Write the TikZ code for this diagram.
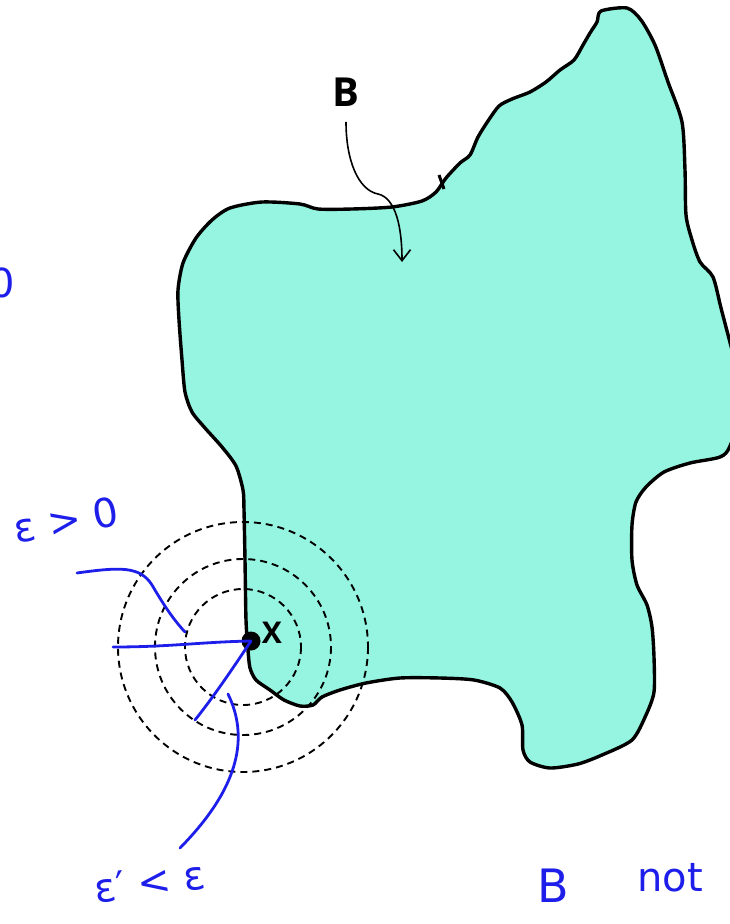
\documentclass[tikz,border=0pt]{standalone}
\usepackage{fontspec}
\newfontfamily\labelfont{Open Sans}
\newfontfamily\handfont{DejaVu Sans}
\usepackage{xcolor}
\usetikzlibrary{arrows.meta}
\definecolor{blobfill}{RGB}{150,245,225}
\definecolor{ink}{RGB}{30,30,235}

\begin{document}
\begin{tikzpicture}[x=1pt, y=-1pt, >=latex,
    outline/.style={line width=3.4pt, line join=round},
    ring/.style={line width=1.9pt, dash pattern=on 7pt off 5pt},
    pen/.style={ink, line width=2.8pt, line cap=round},
    hand/.style={ink, font=\handfont\fontsize{40}{40}\selectfont}]
    \clip (0,0) rectangle (730,924);

    % 1. Tập B
    \draw[outline, fill=blobfill] plot[smooth cycle, tension=0.45] coordinates {
        (243,490) (236,466) (222,447) (205,428) (192,412) (185,392) (182,360)
        (179,320) (178,290) (183,263) (196,238) (212,220) (230,208) (262,202)
        (300,204) (318,209) (352,209) (392,207) (422,201) (436,192) (446,178)
        (460,163) (470,155) (478,137) (488,121) (499,106) (512,99) (530,92)
        (546,82) (560,70) (574,60) (583,45) (590,33) (597,22) (601,11) (627,8)
        (641,20) (655,45) (668,82) (682,122) (685,170) (686,215) (692,240)
        (700,262) (713,277) (721,308) (732,350) (745,400) (730,446) (720,457)
        (690,463) (664,472) (646,487) (636,502) (632,525) (632,560) (637,585)
        (647,605) (652,627) (654,657) (654,692) (646,715) (632,740) (602,755)
        (578,764) (550,768) (530,762) (523,750) (522,725) (512,702) (500,688)
        (474,680) (440,678) (400,678) (366,683) (340,690) (322,697) (313,705)
        (300,706) (284,700) (270,690) (256,680) (250,668) (248,650) (246,620)
        (245,560) (244,510)};
    \draw[line width=3pt] (439,175) -- (444,189);

    % 2. Nhãn B và mũi tên
    \node[font=\labelfont\bfseries\fontsize{40}{40}\selectfont] (Blabel) at (346,92) {B};
    \coordinate (Bin) at (402,262);
    \draw[line width=1.6pt, -{Straight Barb[length=11pt, width=17pt]}, shorten <=12pt]
        (Blabel.south) .. controls (346,160) and (358,190) .. (378,194)
        .. controls (396,198) and (402,228) .. (Bin);

    % 3. Các đường tròn đồng tâm
    \foreach \r in {58,88,125} {
        \draw[ring] (243,647) circle[radius=\r];
    }

    % 4. Điểm x
    \node[circle, fill, inner sep=0pt, minimum size=19pt] (x) at (251,641) {};
    \node[font=\labelfont\bfseries\fontsize{30}{30}\selectfont] (xlabel) at (272,633) {X};

    % 5. Bán kính và chú thích
    \coordinate (r1) at (113,647);
    \coordinate (r2) at (195,720);
    \draw[pen] (x.center) .. controls (200,642) and (170,647) .. (r1);
    \draw[pen] (x.center) .. controls (235,665) and (215,695) .. (r2);
    \draw[pen] (77,573) .. controls (120,567) and (140,566) .. (152,585)
        .. controls (162,602) and (172,618) .. (185,632);
    \draw[pen] (228,694) .. controls (248,735) and (242,785) .. (180,848);

    \node[hand, rotate=10] (eps) at (66,520) {ε > 0};
    \node[hand, rotate=8] (epsprime) at (150,882) {ε′ < ε};
    \node[hand, font=\handfont\fontsize{46}{46}\selectfont] (Bword) at (553,886) {B};
    \node[hand] (notword) at (670,878) {not};
    \node[hand] (zero) at (2,283) {0};
\end{tikzpicture}
\end{document}
